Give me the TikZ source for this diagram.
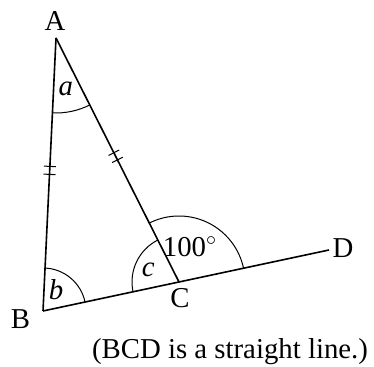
\documentclass[tikz,border=0pt]{standalone}
\usepackage{fontspec}
\setmainfont{Liberation Serif}
\usetikzlibrary{angles,decorations.markings}

\begin{document}
\begin{tikzpicture}[
    x=0.5pt, y=0.5pt,
    side/.style={line width=0.8pt},
    ticked/.style={postaction={decorate}, decoration={markings,
        mark=at position 0.485 with {\draw[line width=0.5pt] (-4,-6) -- (-4,6) (4,-6) -- (4,6);}}},
    lbl/.style={font=\fontsize{14.4}{17}\selectfont, inner sep=0pt},
    arcmark/.style={draw, line width=0.5pt}
]
\useasboundingbox (0,0) rectangle (374,367);
% vertices
\coordinate (A) at (56,329);
\coordinate (B) at (43,56);
\coordinate (C) at (179,85);
\coordinate (D) at (329,117);
% sides
\draw[side, ticked] (A) -- (B);
\draw[side, ticked] (A) -- (C);
\draw[side] (B) -- (D);
% angle arcs
\pic[arcmark, angle radius=37.5pt] {angle=B--A--C};
\pic[arcmark, angle radius=21.5pt] {angle=C--B--A};
\pic[arcmark, angle radius=23.5pt] {angle=A--C--B};
\pic[arcmark, angle radius=33pt] {angle=D--C--A};
% labels
\node[lbl] (labA) at (55,346) {A};
\node[lbl] (labB) at (20.5,48) {B};
\node[lbl] (labC) at (180,69) {C};
\node[lbl] (labD) at (343,119) {D};
\node[lbl] (anga) at (65.7,277.7) {\textit{a}};
\node[lbl] (angb) at (56,77) {\textit{b}};
\node[lbl] (angc) at (148.3,97) {\textit{c}};
\node[lbl] (angd) at (190,120.3) {100$^{\circ}$};
\node[lbl, anchor=base] (note) at (230,8) {(BCD is a straight line.)};
\end{tikzpicture}
\end{document}
